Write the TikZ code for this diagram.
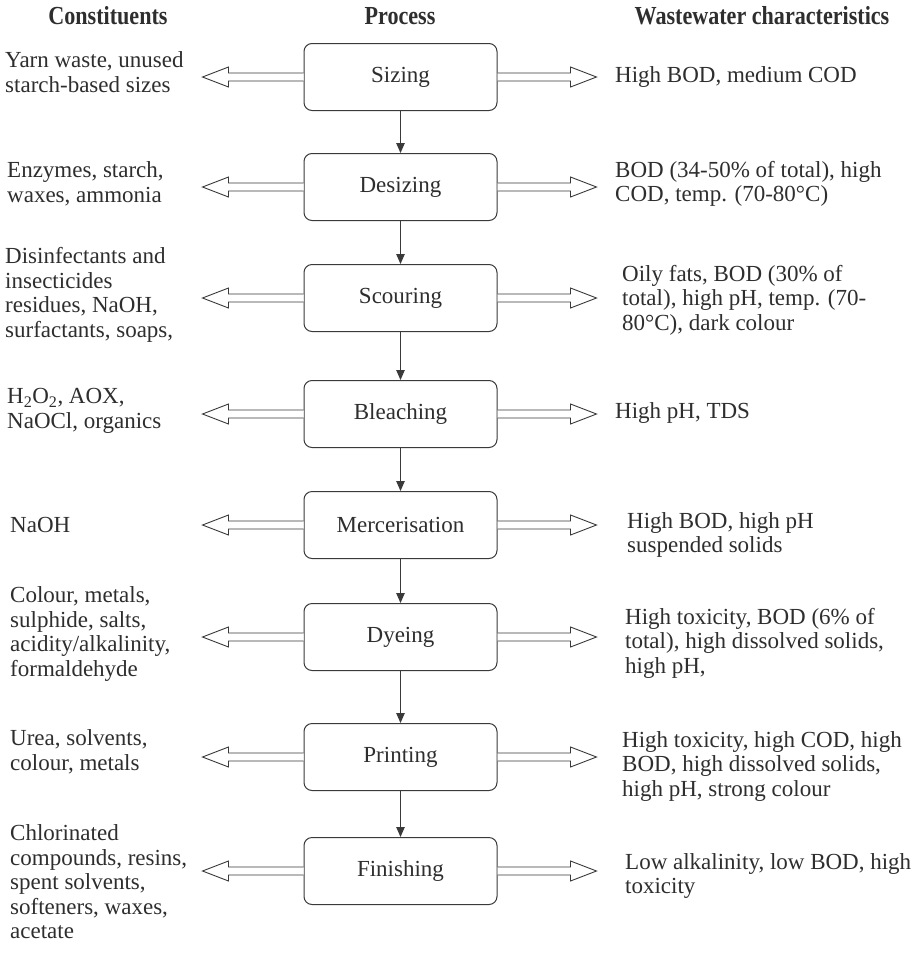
\documentclass[tikz,border=0pt]{standalone}
\usepackage{fontspec}
\setmainfont{Liberation Serif}
\newfontfamily\headfont[FakeStretch=0.85]{Liberation Serif}
\usetikzlibrary{arrows.meta}
\definecolor{linec}{HTML}{3A3A3A}
\definecolor{textc}{HTML}{2E2E2E}
\newcommand{\bodyfont}{\fontsize{23}{24.5}\selectfont}
\tikzset{
  proc/.style={draw=linec, line width=1pt, rounded corners=8pt, minimum width=193pt, minimum height=67pt, font=\bodyfont, text=textc, fill=white},
  ltxt/.style={anchor=west, align=left, inner sep=0pt, font=\bodyfont, text=textc},
  head/.style={inner sep=0pt, font=\headfont\bfseries\fontsize{26}{28}\selectfont, text=textc},
  flow/.style={draw=linec, line width=1pt, -{Triangle[length=10pt,width=8.5pt]}},
  harrow/.style={draw=linec, line width=0.9pt, fill=white, line join=miter}
}
\newcommand{\leftarr}[1]{%
  \draw[harrow] ([yshift=4pt]#1.west) -- ++(-75,0) -- ++(0,-6) -- ++(-26,10) -- ++(26,10) -- ++(0,-6) -- ([yshift=-4pt]#1.west);}
\newcommand{\rightarr}[1]{%
  \draw[harrow] ([yshift=4pt]#1.east) -- ++(73,0) -- ++(0,-6) -- ++(26,10) -- ++(-26,10) -- ++(0,-6) -- ([yshift=-4pt]#1.east);}
\begin{document}
\begin{tikzpicture}[x=1pt,y=-1pt]
\fill[white] (0,0) rectangle (916,959);
\useasboundingbox (0,0) rectangle (916,959);

\node[head] (h1) at (108,16) {Constituents};
\node[head] (h2) at (400,16) {Process};
\node[head] (h3) at (762,16) {Wastewater characteristics};

\node[proc] (p1) at (400.5,77) {Sizing};
\node[proc] (p2) at (400.5,187) {Desizing};
\node[proc] (p3) at (400.5,298) {Scouring};
\node[proc] (p4) at (400.5,414) {Bleaching};
\node[proc] (p5) at (400.5,525) {Mercerisation};
\node[proc] (p6) at (400.5,637) {Dyeing};
\node[proc] (p7) at (400.5,757) {Printing};
\node[proc] (p8) at (400.5,871) {Finishing};

\foreach \a/\b in {p1/p2,p2/p3,p3/p4,p4/p5,p5/p6,p6/p7,p7/p8}
  \draw[flow] (\a.south) -- (\b.north);

\foreach \p in {p1,p2,p3,p4,p5,p6,p7,p8}{\leftarr{\p}\rightarr{\p}}

% constituents
\node[ltxt] (l1) at (5,72) {Yarn waste, unused\\starch-based sizes};
\node[ltxt] (l2) at (7,184) {Enzymes, starch,\\waxes, ammonia};
\node[ltxt] (l3) at (5,295) {Disinfectants and\\insecticides\\residues, NaOH,\\surfactants, soaps,};
\node[ltxt] (l4) at (7,411) {H\textsubscript{2}O\textsubscript{2}, AOX,\\NaOCl, organics};
\node[ltxt] (l5) at (10,525) {NaOH};
\node[ltxt] (l6) at (10,634) {Colour, metals,\\sulphide, salts,\\acidity/alkalinity,\\formaldehyde};
\node[ltxt] (l7) at (10,752) {Urea, solvents,\\colour, metals};
\node[ltxt] (l8) at (10,882) {Chlorinated\\compounds, resins,\\spent solvents,\\softeners, waxes,\\acetate};

% wastewater characteristics
\node[ltxt] (r1) at (615,77) {High BOD, medium COD};
\node[ltxt] (r2) at (615,184) {BOD (34-50\% of total), high\\COD, temp. (70-80°C)};
\node[ltxt] (r3) at (622,300) {Oily fats, BOD (30\% of\\total), high pH, temp. (70-\\80°C), dark colour};
\node[ltxt] (r4) at (615,413) {High pH, TDS};
\node[ltxt] (r5) at (627,535) {High BOD, high pH\\suspended solids};
\node[ltxt] (r6) at (625,643) {High toxicity, BOD (6\% of\\total), high dissolved solids,\\high pH,};
\node[ltxt] (r7) at (622,766) {High toxicity, high COD, high\\BOD, high dissolved solids,\\high pH, strong colour};
\node[ltxt] (r8) at (625,876) {Low alkalinity, low BOD, high\\toxicity};
\end{tikzpicture}
\end{document}
